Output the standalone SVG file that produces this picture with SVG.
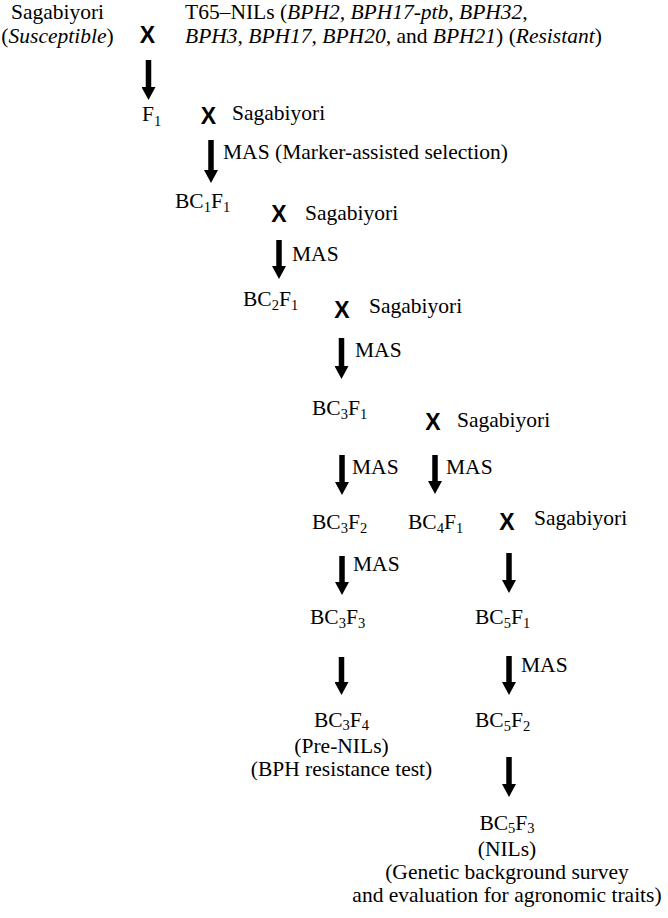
<svg xmlns="http://www.w3.org/2000/svg" width="668" height="918" viewBox="0 0 668 918" font-family="'Liberation Serif', 'Times New Roman', serif">
<defs>
<style>
text{font-family:'Liberation Serif','Times New Roman',serif;font-size:21.5px;fill:#000}
.x{font-family:'Liberation Sans',Arial,sans-serif;font-weight:bold;font-size:23px}
.s{font-size:14.5px}
.i{font-style:italic}
.c{text-anchor:middle}
.ar{stroke:#000;stroke-width:5.5;fill:none;marker-end:url(#ah)}
</style>
<marker id="ah" markerUnits="userSpaceOnUse" markerWidth="13" markerHeight="14" refX="0" refY="7" orient="auto" viewBox="0 0 13 14">
<path d="M0,0 L13,7 L0,14 Z" fill="#000"/>
</marker>
</defs>
<rect width="668" height="918" fill="#fff"/>
<g id="connectors">
<line class="ar" x1="148.5" y1="60" x2="148.5" y2="87"/>
<line class="ar" x1="211" y1="140" x2="211" y2="170"/>
<line class="ar" x1="279" y1="240" x2="279" y2="266"/>
<line class="ar" x1="341.5" y1="338" x2="341.5" y2="366"/>
<line class="ar" x1="342" y1="455" x2="342" y2="482"/>
<line class="ar" x1="435" y1="455" x2="435" y2="481"/>
<line class="ar" x1="342" y1="556" x2="342" y2="582"/>
<line class="ar" x1="509" y1="553" x2="509" y2="580"/>
<line class="ar" x1="341.5" y1="657" x2="341.5" y2="682"/>
<line class="ar" x1="509" y1="656" x2="509" y2="682"/>
<line class="ar" x1="509" y1="757" x2="509" y2="784"/>
</g>
<g id="labels">
<text x="223" y="159">MAS (Marker-assisted selection)</text>
<text x="292" y="261">MAS</text>
<text x="355" y="357">MAS</text>
<text x="352" y="474">MAS</text>
<text x="446" y="474">MAS</text>
<text x="353" y="571">MAS</text>
<text x="521" y="672">MAS</text>
</g>
<g id="sagabiyori-p">
<text class="c" x="57.5" y="19">Sagabiyori</text>
<text class="c" x="57.5" y="43">(<tspan class="i">Susceptible</tspan>)</text>
</g>
<g id="cross1"><text class="x c" x="147.5" y="43">X</text></g>
<g id="t65-nils">
<text x="185" y="19">T65–NILs (<tspan class="i">BPH2, BPH17-ptb, BPH32,</tspan></text>
<text x="185" y="43"><tspan class="i">BPH3, BPH17, BPH20,</tspan> and <tspan class="i">BPH21</tspan>) (<tspan class="i">Resistant</tspan>)</text>
</g>
<g id="f1"><text x="142" y="121">F<tspan class="s" dy="5">1</tspan></text></g>
<g id="cross2"><text class="x c" x="208.5" y="124">X</text><text x="232" y="120">Sagabiyori</text></g>
<g id="bc1f1"><text x="175" y="208">BC<tspan class="s" dy="4">1</tspan><tspan dy="-4">F</tspan><tspan class="s" dy="4">1</tspan></text></g>
<g id="cross3"><text class="x c" x="279" y="222">X</text><text x="305" y="220">Sagabiyori</text></g>
<g id="bc2f1"><text x="243" y="306">BC<tspan class="s" dy="4">2</tspan><tspan dy="-4">F</tspan><tspan class="s" dy="4">1</tspan></text></g>
<g id="cross4"><text class="x c" x="342" y="318">X</text><text x="369" y="313">Sagabiyori</text></g>
<g id="bc3f1"><text x="312" y="415">BC<tspan class="s" dy="4">3</tspan><tspan dy="-4">F</tspan><tspan class="s" dy="4">1</tspan></text></g>
<g id="cross5"><text class="x c" x="433" y="430">X</text><text x="457" y="427">Sagabiyori</text></g>
<g id="bc3f2"><text x="312" y="529">BC<tspan class="s" dy="4">3</tspan><tspan dy="-4">F</tspan><tspan class="s" dy="4">2</tspan></text></g>
<g id="bc4f1"><text x="408" y="529">BC<tspan class="s" dy="4">4</tspan><tspan dy="-4">F</tspan><tspan class="s" dy="4">1</tspan></text></g>
<g id="cross6"><text class="x c" x="507" y="530">X</text><text x="534" y="525">Sagabiyori</text></g>
<g id="bc3f3"><text x="310" y="624">BC<tspan class="s" dy="4">3</tspan><tspan dy="-4">F</tspan><tspan class="s" dy="4">3</tspan></text></g>
<g id="bc5f1"><text x="475" y="624">BC<tspan class="s" dy="4">5</tspan><tspan dy="-4">F</tspan><tspan class="s" dy="4">1</tspan></text></g>
<g id="bc3f4">
<text class="c" x="341.5" y="727">BC<tspan class="s" dy="3">3</tspan><tspan dy="-3">F</tspan><tspan class="s" dy="3">4</tspan></text>
<text class="c" x="341.5" y="753">(Pre-NILs)</text>
<text class="c" x="341.5" y="776">(BPH resistance test)</text>
</g>
<g id="bc5f2"><text x="475" y="727">BC<tspan class="s" dy="4">5</tspan><tspan dy="-4">F</tspan><tspan class="s" dy="4">2</tspan></text></g>
<g id="bc5f3">
<text class="c" x="507" y="830">BC<tspan class="s" dy="3">5</tspan><tspan dy="-3">F</tspan><tspan class="s" dy="3">3</tspan></text>
<text class="c" x="507" y="856">(NILs)</text>
<text class="c" x="507" y="879">(Genetic background survey</text>
<text class="c" x="507" y="902">and evaluation for agronomic traits)</text>
</g>
</svg>
